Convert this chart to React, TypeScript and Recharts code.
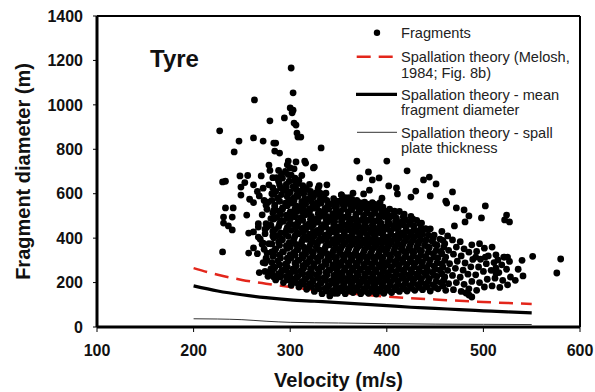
import React from 'react';
import { ComposedChart, Scatter, Line, XAxis, YAxis, ReferenceLine, Customized } from 'recharts';

// Velocity (m/s) and fragment diameter (m) pairs, "v d" separated by commas
const FRAG_SPARSE = "227 883,230 653,233 656,242 788,247 837,262 851,263 1022,272 837,279 928,283 828,285 828,284 792,294 941,301 1166,303 1054,300 986,303 976,302 964,304 918,306 909,307 873,308 855,311 855,289 783,278 729,248 680,256 682,315 747,306 743,324 716,298 747,332 806,316 738,325 720,369 747,400 747,381 698,421 703,444 675,438 662,372 671,385 662,392 671,451 644,468 608,402 635,410 626,411 599,338 640,330 636,331 603,376 599,382 616,395 580,357 582,365 602,353 595,445 590,430 612,425 585,461 567,462 558,472 536,480 527,502 545,498 491,524 504,527 473,522 482,481 473,485 500,470 455,580 306,576 243,230 338,233 536,241 536,231 495,240 495,231 468,236 455,240 437,249 630,249 594,255 504,257 423,262 428,267 450,257 333,262 356,258 575,262 560,267 405,272 378,276 333,283 324,274 288,283 270,279 248,283 225,290 234,297 212,302 216,295 257,253 650,262 640,266 610,270 680";

const FRAG_LEFT_CORE = "268 245,272 290,266 330,271 372,274 420,267 465,271 505,275 548,268 590,272 625,275 465,269 395,277 228,280 262,276 300,281 338,278 375,282 410,276 450,280 488,283 525,277 562,281 600,278 640,282 672,279 705,285 212,288 240,284 268,287 298,289 325,285 352,288 382,286 410,284 438,289 465,286 493,288 522,284 550,287 580,285 610,289 640,286 672,288 705,293 200,296 228,292 255,295 283,297 310,293 338,296 366,292 393,295 420,297 448,293 476,296 503,292 530,295 558,297 586,293 614,296 642,292 670,295 700,297 730,301 188,304 212,300 238,303 262,305 287,301 312,304 336,300 360,303 385,305 410,301 435,304 460,300 484,303 508,305 533,301 558,304 582,300 607,303 632,305 657,301 684,304 712,309 180,312 204,308 228,311 252,313 276,309 300,312 324,308 348,311 372,313 396,309 420,312 444,308 468,311 492,313 516,309 540,312 564,308 588,311 612,313 636,309 660,312 682,317 170,320 193,316 215,319 238,321 260,317 283,320 305,316 328,319 350,321 373,317 395,320 418,316 440,319 463,321 485,317 508,320 530,316 553,319 575,321 598,317 620,320 642";

const FRAG_MID_CORE = "325 160,328 185,324 210,327 235,329 260,325 285,328 310,324 335,327 360,329 385,325 410,328 435,324 460,327 485,329 510,325 535,328 560,324 585,327 605,329 625,333 150,336 174,332 198,335 222,337 246,333 270,336 294,332 318,335 342,337 366,333 390,336 414,332 438,335 462,337 486,333 510,336 534,332 558,335 580,337 602,341 140,344 163,340 186,343 209,345 232,341 255,344 278,340 301,343 324,345 347,341 370,344 393,340 416,343 439,345 462,341 485,344 508,340 531,343 555,345 578,349 152,352 175,348 198,351 221,353 244,349 267,352 290,348 313,351 336,353 359,349 382,352 405,348 428,351 451,353 474,349 497,352 520,348 543,351 567,353 595,357 150,360 173,356 196,359 219,361 242,357 265,360 288,356 311,359 334,361 357,357 380,360 403,356 426,359 449,361 472,357 495,360 518,356 541,359 562,361 582,365 155,368 177,364 199,367 221,369 243,365 265,368 287,364 309,367 331,369 353,365 375,368 397,364 419,367 441,369 463,365 485,368 507,364 529,367 550,369 570,373 150,376 172,372 194,375 216,377 238,373 260,376 282,372 304,375 326,377 348,373 370,376 392,372 414,375 436,377 458,373 480,376 502,372 524,375 543,377 562";

const FRAG_RIGHT_CORE = "381 152,384 174,380 196,383 218,385 240,381 262,384 284,380 306,383 328,385 350,381 372,384 394,380 416,383 438,385 460,381 482,384 504,380 526,383 545,385 560,389 148,392 170,388 192,391 214,393 236,389 258,392 280,388 302,391 324,393 346,389 368,392 390,388 412,391 434,393 456,389 478,392 500,388 522,391 542,393 560,397 152,400 175,396 198,399 221,401 244,397 267,400 290,396 313,399 336,401 359,397 382,400 405,396 428,399 451,401 474,397 497,400 520,396 540,405 155,408 178,404 201,407 224,409 247,405 270,408 293,404 316,407 339,409 362,405 385,408 408,404 431,407 454,409 477,405 500,408 522,413 160,416 184,412 208,415 232,417 256,413 280,416 304,412 328,415 352,417 376,413 400,416 424,412 448,415 472,417 496,413 520,421 162,424 186,420 210,423 234,425 258,421 282,424 306,420 330,423 354,425 378,421 402,424 426,420 450,423 474,425 498,429 165,432 190,428 214,431 238,433 262,429 286,432 310,428 334,431 358,433 382,429 406,432 430,428 455,431 480,437 168,440 193,436 218,439 243,441 268,437 293,440 318,436 343,439 368,441 393,437 418,440 443,436 468";

const FRAG_TAIL = "445 162,448 190,444 218,447 246,449 274,445 302,448 330,444 358,447 386,449 414,445 442,453 172,456 200,452 228,455 256,457 284,453 312,456 340,452 368,455 396,457 430,461 165,464 195,460 225,463 255,465 285,461 315,464 345,460 375,463 410,469 168,472 200,468 232,471 264,473 296,469 328,472 360,468 392,477 160,480 192,476 224,479 256,481 288,477 320,480 352,476 384,485 172,488 205,484 238,487 271,489 304,485 337,488 370,493 165,496 200,492 235,495 270,497 305,493 340,496 375,501 180,504 215,500 250,503 285,505 320,501 355,509 185,512 220,508 255,511 290,513 325,509 360,517 178,520 210,516 245,519 280,521 315,525 190,528 225,524 260,527 295,533 210,536 260,541 230,485 144,488 135,482 153,492 315,502 315,515 302,522 315,525 315,513 265,513 243,540 300,551 318";

const FRAG_FILL_A = "274 250,275 310,273 350,274 440,276 530,273 570,282 235,283 262,281 290,282 318,284 346,281 374,283 402,282 430,280 458,283 486,282 514,284 542,281 570,283 598,282 626,290 225,291 252,289 280,290 310,292 338,289 368,291 396,290 424,288 452,291 480,290 508,292 536,289 566,291 596,290 626,288 656,291 688,298 214,299 242,297 270,298 298,300 326,297 354,299 380,298 408,296 436,299 462,298 490,300 518,297 546,299 572,298 600,296 628,299 656,298 686,300 716,306 200,307 225,305 250,306 275,308 300,305 324,307 348,306 372,304 397,307 422,306 447,308 472,305 496,307 520,306 545,304 570,307 595,306 620,308 646,305 670,314 192,315 216,313 240,314 264,316 288,313 312,315 336,314 360,312 384,315 408,314 432,316 456,313 480,315 504,314 528,312 552,315 576,314 600,316 624,322 182,323 205,321 228,322 250,324 272,321 295,323 318,322 340,320 362,323 385,322 408,324 430,321 452,323 475,322 498,320 520,323 542,322 565,324 588,321 610,330 172,331 197,329 222,330 247,332 272,329 297,331 322,330 347,328 372,331 397,330 422,332 447,329 472,331 497,330 522,328 547,331 572,330 595";

const FRAG_FILL_B = "338 162,339 186,337 210,338 234,340 258,337 282,339 306,338 330,336 354,339 378,338 402,340 426,337 450,339 474,338 498,336 522,339 546,338 570,346 152,347 175,345 198,346 221,348 244,345 267,347 290,346 313,344 336,347 359,346 382,348 405,345 428,347 451,346 474,344 497,347 520,346 543,348 566,354 163,355 186,353 209,354 232,356 255,353 278,355 301,354 324,352 347,355 370,354 393,356 416,353 439,355 462,354 485,352 508,355 531,354 554,356 578,362 162,363 185,361 208,362 231,364 254,361 277,363 300,362 323,360 346,363 369,362 392,364 415,361 438,363 461,362 484,360 507,363 530,362 552,364 574,370 165,371 188,369 210,370 232,372 254,369 276,371 298,370 320,368 342,371 364,370 386,372 408,369 430,371 452,370 474,368 496,371 518,370 540,372 560";

const FRAG_FILL_C = "378 161,379 183,377 205,378 227,380 249,377 271,379 293,378 315,376 337,379 359,378 381,380 403,377 425,379 447,378 469,376 491,379 513,378 535,380 553,386 160,387 182,385 204,386 226,388 248,385 270,387 292,386 314,384 336,387 358,386 380,388 402,385 424,387 446,386 468,384 490,387 512,386 534,388 552,394 160,395 182,393 204,394 226,396 248,393 270,395 292,394 314,392 336,395 358,394 380,396 402,393 424,395 446,394 468,392 490,395 512,394 532,402 165,403 188,401 211,402 234,404 257,401 280,403 303,402 326,400 349,403 372,402 395,404 418,401 441,403 464,402 487,400 510,403 530,410 168,411 191,409 214,410 237,412 260,409 283,411 306,410 329,408 352,411 375,410 398,412 421,409 444,411 467,410 490,408 512,418 172,419 196,417 220,418 244,420 268,417 292,419 316,418 340,416 364,419 388,418 412,420 436,417 460,419 484,418 508,426 174,427 198,425 222,426 246,428 270,425 294,427 318,426 342,424 366,427 390,426 414,428 438,425 462,427 486,434 178,435 202,433 226,434 250,436 274,433 298,435 322,434 346,432 370,435 394,433 418,435 442,434 466,442 180,443 206,441 232,442 258,444 284,441 310,443 336,442 362,440 388,443 414,441 440,450 178,451 205,449 232,450 260,452 288,449 316,451 344,450 372,448 400,458 185,459 212,457 240,458 270,460 300,457 330,459 360,458 390";

// Theory curves
const MELOSH_V = [200, 225, 250, 275, 300, 325, 350, 375, 400, 425, 450, 475, 500, 525, 550];
const MELOSH_D = [265, 235, 212, 195, 180, 167, 156, 146, 137, 130, 124, 118, 113, 108, 104];
const MEAN_V = [200, 225, 250, 275, 300, 325, 350, 375, 400, 425, 450, 475, 500, 525, 550];
const MEAN_D = [185, 162, 145, 132, 122, 116, 110, 103, 96, 89, 84, 78, 73, 68, 64];
const SPALL_V = [200, 225, 250, 275, 300, 350, 400, 450, 500, 550];
const SPALL_D = [37, 36, 33, 26, 21, 18, 15, 13, 12, 11];

const X_TICKS = [100, 200, 300, 400, 500, 600];
const Y_TICKS = [0, 200, 400, 600, 800, 1000, 1200, 1400];

const parsePairs = (s: string) =>
  s.split(',').map((p) => {
    const [v, d] = p.trim().split(/\s+/).map(Number);
    return { v, d };
  });

const fragments = [FRAG_SPARSE, FRAG_LEFT_CORE, FRAG_MID_CORE, FRAG_RIGHT_CORE, FRAG_TAIL, FRAG_FILL_A, FRAG_FILL_B, FRAG_FILL_C].flatMap(parsePairs);
const zip = (vs: number[], ds: number[]) => vs.map((v, i) => ({ v, d: ds[i] }));
const melosh = zip(MELOSH_V, MELOSH_D);
const mean = zip(MEAN_V, MEAN_D);
const spall = zip(SPALL_V, SPALL_D);

const FONT = '"Liberation Sans", Arial, sans-serif';

const Dot = (props: any) => <circle cx={props.cx} cy={props.cy} r={3.4} fill="#000" />;

const Overlay = () => (
  <g>
    <text x={150} y={67} fontFamily={FONT} fontWeight="bold" fontSize={24} fill="#111">
      Tyre
    </text>
    <g transform="translate(350,18)" fontFamily={FONT} fontSize={14.6} fill="#222">
      <circle cx={27} cy={14.7} r={3.2} fill="#000" />
      <text x={51} y={19.5}>Fragments</text>
      <line x1={6.7} y1={38.7} x2={43} y2={38.7} stroke="#e3261b" strokeWidth={2.5} strokeDasharray="14 8" />
      <text x={51} y={43.8}>Spallation theory (Melosh,</text>
      <text x={51} y={59.5}>1984; Fig. 8b)</text>
      <line x1={6} y1={76.3} x2={47} y2={76.3} stroke="#000" strokeWidth={3.2} />
      <text x={51} y={81.5}>Spallation theory - mean</text>
      <text x={51} y={97.2}>fragment diameter</text>
      <line x1={7} y1={114.3} x2={47} y2={114.3} stroke="#333" strokeWidth={1} />
      <text x={51} y={119.5}>Spallation theory - spall</text>
      <text x={51} y={134.5}>plate thickness</text>
    </g>
  </g>
);

const tickStyle = { fill: '#111', fontSize: 16, fontWeight: 'bold', fontFamily: FONT };

export default function App() {
  return (
    <div style={{ position: 'absolute', left: 0, top: 0, background: '#fff' }}>
      <ComposedChart width={595} height={392} margin={{ top: 16, right: 15, bottom: 0, left: 0 }}>
        <XAxis
          type="number"
          dataKey="v"
          domain={[100, 600]}
          ticks={X_TICKS}
          allowDataOverflow
          height={65}
          tickSize={5}
          tickMargin={13}
          tick={tickStyle}
          tickLine={{ stroke: '#000', strokeWidth: 1 }}
          axisLine={{ stroke: '#000', strokeWidth: 3 }}
          label={(p: any) => {
            const vb = p.viewBox;
            return (
              <text x={vb.x + vb.width / 2} y={387} textAnchor="middle" fontFamily={FONT} fontWeight="bold" fontSize={20} fill="#111">
                Velocity (m/s)
              </text>
            );
          }}
        />
        <YAxis
          type="number"
          dataKey="d"
          domain={[0, 1400]}
          ticks={Y_TICKS}
          allowDataOverflow
          width={97}
          tickSize={4}
          tickMargin={10}
          tick={tickStyle}
          tickLine={{ stroke: '#000', strokeWidth: 1 }}
          axisLine={{ stroke: '#000', strokeWidth: 3 }}
          label={(p: any) => {
            const vb = p.viewBox;
            const cy = vb.y + vb.height / 2;
            return (
              <text x={30} y={cy} transform={`rotate(-90 30 ${cy})`} textAnchor="middle" fontFamily={FONT} fontWeight="bold" fontSize={20} fill="#111">
                Fragment diameter (m)
              </text>
            );
          }}
        />
        <ReferenceLine y={1400} stroke="#000" strokeWidth={2} />
        <ReferenceLine x={600} stroke="#000" strokeWidth={2} />
        <Line data={spall} dataKey="d" type="monotone" stroke="#333" strokeWidth={1} dot={false} isAnimationActive={false} legendType="none" />
        <Line data={mean} dataKey="d" type="monotone" stroke="#000" strokeWidth={3.2} dot={false} isAnimationActive={false} legendType="none" />
        <Line data={melosh} dataKey="d" type="monotone" stroke="#e3261b" strokeWidth={2.5} strokeDasharray="14 8" dot={false} isAnimationActive={false} legendType="none" />
        <Scatter data={fragments} dataKey="d" fill="#000" shape={Dot} isAnimationActive={false} />
        <Customized component={Overlay} />
      </ComposedChart>
    </div>
  );
}
